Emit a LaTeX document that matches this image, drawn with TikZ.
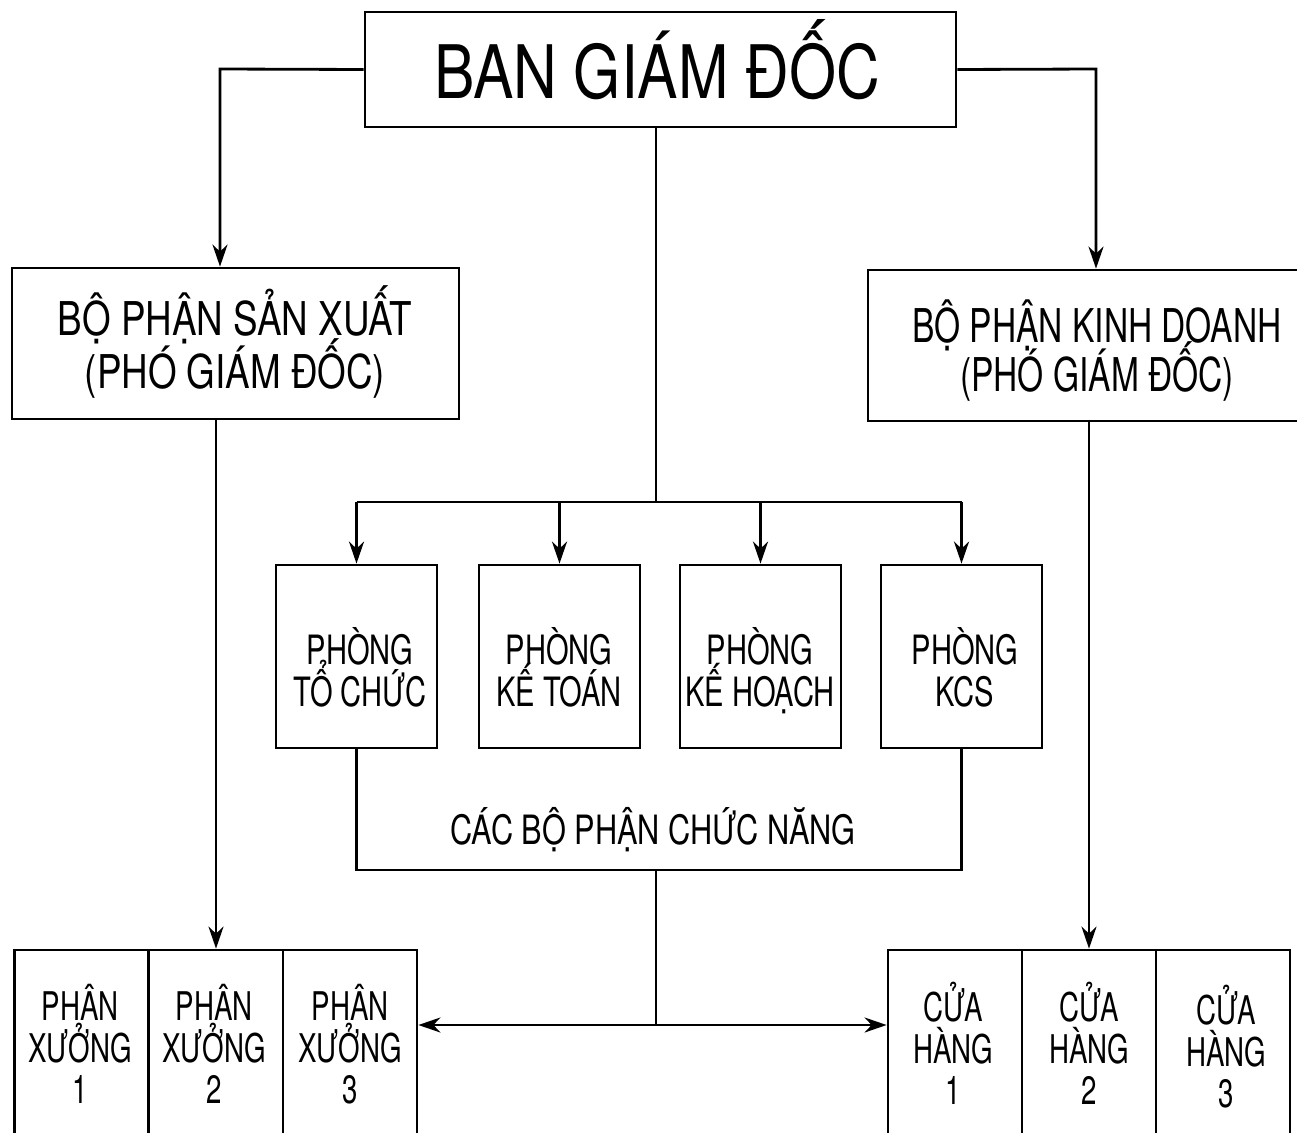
\documentclass[tikz,border=0pt]{standalone}
\usepackage{fontspec}
\setmainfont{TeX Gyre Heros}
\newfontfamily\fTitle[FakeStretch=0.82]{TeX Gyre Heros}
\newfontfamily\fSide[FakeStretch=0.79]{TeX Gyre Heros}
\newfontfamily\fLbl[FakeStretch=0.76]{TeX Gyre Heros}
\newfontfamily\fDept[FakeStretch=0.72]{TeX Gyre Heros}
\newfontfamily\fUnit[FakeStretch=0.70]{TeX Gyre Heros}
\usetikzlibrary{arrows.meta}
% one text line whose box spans exactly the capital letters
\newcommand\capln[1]{\smash{#1}\vphantom{X}}
\begin{document}
\begin{tikzpicture}[x=0.02cm, y=-0.02cm, line width=1.6pt,
  box/.style={draw, rectangle, inner sep=0pt},
  txt/.style={inner sep=0pt, align=center},
  arr/.style={-{Stealth[length=0.44cm, width=0.3cm, inset=0.14cm]}},
  fbig/.style={font=\fTitle\fontsize{42}{44}\selectfont},
  fside/.style={font=\fSide\fontsize{26.5}{30}\selectfont},
  fsider/.style={font=\fDept\fontsize{26.5}{28.4}\selectfont},
  fdept/.style={font=\fDept\fontsize{23}{23.8}\selectfont},
  flbl/.style={font=\fLbl\fontsize{23}{24}\selectfont},
  funit/.style={font=\fUnit\fontsize{22.5}{23.6}\selectfont}]
\clip (0,0) rectangle (1297,1132);
\fill[white] (0,0) rectangle (1297,1132);

% management
\node[box, minimum width=11.82cm, minimum height=2.30cm] (top) at (660.5,69.5) {};
\node[txt, fbig] (topT) at (657,71.5) {\capln{BAN GIÁM ĐỐC}};

% deputy directors
\node[box, minimum width=8.94cm, minimum height=3.02cm] (left) at (235.5,343.5) {};
\node[txt, fside] (leftT) at (235,345) {\capln{BỘ PHẬN SẢN XUẤT}\\\capln{(PHÓ GIÁM ĐỐC)}};
\node[box, minimum width=9.16cm, minimum height=3.02cm] (right) at (1097,345.5) {};
\node[txt, fsider] (rightT) at (1097,350) {\capln{BỘ PHẬN KINH DOANH}\\\capln{(PHÓ GIÁM ĐỐC)}};

% functional departments
\foreach \n/\x/\tx/\t in {p1/356.5/360/{\capln{PHÒNG}\\\capln{TỔ CHỨC}},
                          p2/559.5/559/{\capln{PHÒNG}\\\capln{KẾ TOÁN}},
                          p3/760.5/760/{\capln{PHÒNG}\\\capln{KẾ HOẠCH}},
                          p4/961.5/965/{\capln{PHÒNG}\\\capln{KCS}}} {
  \node[box, minimum width=3.22cm, minimum height=3.66cm] (\n) at (\x,656.5) {};
  \node[txt, fdept] (\n T) at (\tx,671) {\t};
}

% workshops and shops
\foreach \n/\x/\tx/\ty/\t in {x1/81.5/80/1048/{\capln{PHÂN}\\\capln{XƯỞNG}\\\capln{1}},
                              x2/216/214/1048/{\capln{PHÂN}\\\capln{XƯỞNG}\\\capln{2}},
                              x3/350/350/1048/{\capln{PHÂN}\\\capln{XƯỞNG}\\\capln{3}},
                              c1/955/953/1049/{\capln{CỬA}\\\capln{HÀNG}\\\capln{1}},
                              c2/1089/1089/1049/{\capln{CỬA}\\\capln{HÀNG}\\\capln{2}},
                              c3/1223/1226/1052/{\capln{CỬA}\\\capln{HÀNG}\\\capln{3}}} {
  \node[box, minimum width=2.68cm, minimum height=4cm] (\n) at (\x,1050) {};
  \node[txt, funit] (\n T) at (\tx,\ty) {\t};
}

% connectors from management
\coordinate (lk) at (220,69);
\coordinate (rk) at (1096,69);
\draw[arr] (top.west) -- (lk) -- (lk |- left.north);
\draw[arr] (top.east) -- (rk) -- (rk |- right.north);

\coordinate (hub) at (656,502);
\draw (hub |- top.south) -- (hub);
\draw (p1.north |- hub) -- (p4.north |- hub);
\foreach \n in {p1,p2,p3,p4}
  \draw[arr] (\n.north |- hub) -- (\n.north);

% bracket grouping the departments
\coordinate (brk) at (656,870);
\draw (p1.south) -- (p1.south |- brk) -- (p4.south |- brk) -- (p4.south);
\node[txt, flbl] (lbl) at (653,830) {\capln{CÁC BỘ PHẬN CHỨC NĂNG}};

\coordinate (fork) at (656,1025);
\draw (brk) -- (fork);
\draw[arr] (fork) -- (fork -| x3.east);
\draw[arr] (fork) -- (fork -| c1.west);

% deputy directors to their units
\draw[arr] (left.south -| x2.north) -- (x2.north);
\draw[arr] (right.south -| c2.north) -- (c2.north);
\end{tikzpicture}
\end{document}
